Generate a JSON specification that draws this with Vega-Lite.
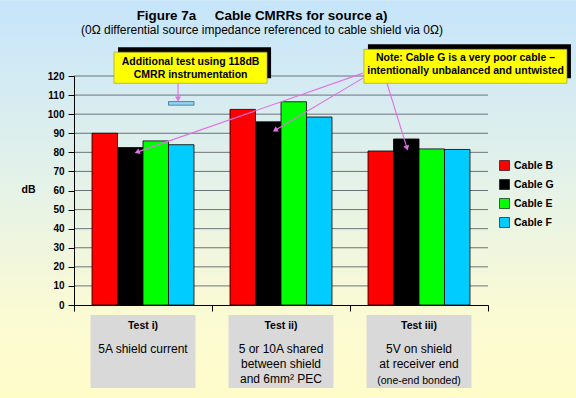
{
  "$schema": "https://vega.github.io/schema/vega-lite/v6.json",
  "width": 414,
  "height": 229,
  "autosize": {"type": "none"},
  "padding": {"left": 74, "top": 76, "right": 88, "bottom": 93},
  "background": "#e4f1ea",
  "config": {
    "font": "Liberation Sans",
    "view": {"stroke": null},
    "axisY": {
      "grid": false,
      "domainColor": "black", "tickColor": "black", "tickSize": 6,
      "labelFont": "Liberation Sans", "labelFontSize": 10, "labelFontWeight": "bold", "labelColor": "black", "labelPadding": 4,
      "titleAngle": 0, "titleX": -46, "titleY": 113, "titleAlign": "center", "titleBaseline": "middle",
      "titleFont": "Liberation Sans", "titleFontSize": 10.5, "titleFontWeight": "bold", "titleColor": "black"
    }
  },
  "title": {
    "text": "Figure 7a \u00a0\u00a0\u00a0 Cable CMRRs for source a)",
    "subtitle": "(0Ω differential source impedance referenced to cable shield via 0Ω)",
    "anchor": "middle",
    "frame": "group",
    "dx": -19,
    "offset": -36,
    "font": "Liberation Sans",
    "fontSize": 13.4,
    "fontWeight": "bold",
    "color": "black",
    "subtitleFont": "Liberation Sans",
    "subtitleFontSize": 12,
    "subtitleColor": "black",
    "subtitlePadding": 2.5
  },
  "datasets": {
    "cmrr": [
      {"test": "Test i)", "cable": "Cable B", "db": 90},
      {"test": "Test i)", "cable": "Cable G", "db": 82.5},
      {"test": "Test i)", "cable": "Cable E", "db": 86},
      {"test": "Test i)", "cable": "Cable F", "db": 84},
      {"test": "Test ii)", "cable": "Cable B", "db": 102.5},
      {"test": "Test ii)", "cable": "Cable G", "db": 96},
      {"test": "Test ii)", "cable": "Cable E", "db": 106.5},
      {"test": "Test ii)", "cable": "Cable F", "db": 98.5},
      {"test": "Test iii)", "cable": "Cable B", "db": 80.7},
      {"test": "Test iii)", "cable": "Cable G", "db": 87},
      {"test": "Test iii)", "cable": "Cable E", "db": 81.8},
      {"test": "Test iii)", "cable": "Cable F", "db": 81.5}
    ],
    "extra": [
      {"test": "Test i)", "cable": "Cable F", "low": 104.7, "high": 106.6}
    ],
    "grid": [
      {"g": 10}, {"g": 20}, {"g": 30}, {"g": 40}, {"g": 50}, {"g": 60},
      {"g": 70}, {"g": 80}, {"g": 90}, {"g": 100}, {"g": 110}, {"g": 120}
    ],
    "tests": [
      {"test": "Test i)", "desc": "5A shield current"},
      {"test": "Test ii)", "desc": "5 or 10A shared\nbetween shield\nand 6mm² PEC"},
      {"test": "Test iii)", "desc": "5V on shield\nat receiver end", "note": "(one-end bonded)"}
    ],
    "notes": [
      {"note": "Additional test using 118dB\nCMRR instrumentation", "bx1": 0.29, "bx2": 1.399, "by1": 132.5, "by2": 116.2, "cx": 0.845, "cy": 127.1},
      {"note": "Note: Cable G is a very poor cable –\nintentionally unbalanced and untwisted", "bx1": 2.101, "bx2": 3.572, "by1": 134.0, "by2": 116.2, "cx": 2.837, "cy": 129.2}
    ],
    "arrows": [
      {"x1": 0.754, "y1": 116.2, "x2": 0.754, "y2": 107.9, "ang": 180},
      {"x1": 2.094, "y1": 121.5, "x2": 0.457, "y2": 80.1, "ang": -109.3},
      {"x1": 2.094, "y1": 118.9, "x2": 1.457, "y2": 91.6, "ang": -120.6},
      {"x1": 2.268, "y1": 116.2, "x2": 2.413, "y2": 82.2, "ang": 162.9}
    ]
  },
  "resolve": {"scale": {"x": "independent"}},
  "layer": [
    {
      "data": {"values": [{}]},
      "mark": {
        "type": "rect",
        "fill": {
          "gradient": "linear",
          "x1": 0, "y1": 0, "x2": 0, "y2": 1,
          "stops": [
            {"offset": 0, "color": "#c6e5fb"},
            {"offset": 0.5, "color": "#e7f3e6"},
            {"offset": 0.78, "color": "#fafad4"},
            {"offset": 1, "color": "#fffcc9"}
          ]
        }
      },
      "encoding": {
        "x": {"datum": -0.5362, "type": "quantitative", "scale": {"domain": [0, 3], "nice": false, "zero": false}, "axis": null},
        "x2": {"datum": 3.638},
        "y": {"datum": 159.7, "type": "quantitative", "scale": {"domain": [0, 120], "nice": false, "zero": false}, "axis": {"values": [0, 10, 20, 30, 40, 50, 60, 70, 80, 90, 100, 110, 120], "title": "dB", "zindex": 1}},
        "y2": {"datum": -48.7}
      }
    },
    {
      "layer": [
        {
          "data": {"name": "tests"},
          "mark": {"type": "bar", "fill": "#d9d9d9", "width": {"band": 0.76}},
          "encoding": {
            "x": {"field": "test", "type": "nominal", "sort": ["Test i)", "Test ii)", "Test iii)"]},
            "y": {"datum": -5.2, "type": "quantitative", "scale": {"domain": [0, 120], "nice": false, "zero": false}, "axis": {"values": [0, 10, 20, 30, 40, 50, 60, 70, 80, 90, 100, 110, 120], "title": "dB", "zindex": 1}},
            "y2": {"datum": -43.5}
          }
        },
        {
          "data": {"name": "grid"},
          "mark": {"type": "rule", "color": "#6b7378", "strokeWidth": 1},
          "encoding": {
            "y": {"field": "g", "type": "quantitative", "scale": {"domain": [0, 120], "nice": false, "zero": false}, "axis": {"values": [0, 10, 20, 30, 40, 50, 60, 70, 80, 90, 100, 110, 120], "title": "dB", "zindex": 1}}
          }
        },
        {
          "data": {"name": "cmrr"},
          "mark": {"type": "bar", "stroke": "black", "strokeWidth": 0.8},
          "encoding": {
            "x": {
              "field": "test", "type": "nominal",
              "sort": ["Test i)", "Test ii)", "Test iii)"],
              "scale": {"paddingInner": 0, "paddingOuter": 0},
              "axis": {"labels": false, "title": null, "grid": false, "domainColor": "black", "tickColor": "black", "tickSize": 6, "bandPosition": 1, "tickExtra": true, "zindex": 1}
            },
            "xOffset": {
              "field": "cable", "type": "nominal",
              "sort": ["Cable B", "Cable G", "Cable E", "Cable F"],
              "scale": {"paddingInner": 0, "paddingOuter": 0.706}
            },
            "y": {
              "field": "db", "type": "quantitative",
              "scale": {"domain": [0, 120], "nice": false, "zero": false},
              "axis": {"values": [0, 10, 20, 30, 40, 50, 60, 70, 80, 90, 100, 110, 120], "title": "dB", "zindex": 1}
            },
            "color": {
              "field": "cable", "type": "nominal",
              "scale": {"domain": ["Cable B", "Cable G", "Cable E", "Cable F"], "range": ["#ff0000", "#000000", "#00ff00", "#00ccff"]},
              "legend": {
                "title": null, "orient": "none", "legendX": 425, "legendY": 84,
                "symbolType": "square", "symbolSize": 100, "symbolStrokeColor": "black", "symbolStrokeWidth": 0.6,
                "labelFont": "Liberation Sans", "labelFontSize": 10.5, "labelFontWeight": "bold", "labelColor": "black",
                "labelOffset": 4, "rowPadding": 6
              }
            }
          }
        },
        {
          "data": {"name": "extra"},
          "mark": {"type": "bar", "fill": "#8fd3f2", "stroke": "#3f6f8c", "strokeWidth": 0.8},
          "encoding": {
            "x": {"field": "test", "type": "nominal", "sort": ["Test i)", "Test ii)", "Test iii)"]},
            "xOffset": {"field": "cable", "type": "nominal", "sort": ["Cable B", "Cable G", "Cable E", "Cable F"]},
            "y": {"field": "low", "type": "quantitative", "scale": {"domain": [0, 120], "nice": false, "zero": false}, "axis": {"values": [0, 10, 20, 30, 40, 50, 60, 70, 80, 90, 100, 110, 120], "title": "dB", "zindex": 1}},
            "y2": {"field": "high"}
          }
        },
        {
          "data": {"name": "tests"},
          "mark": {"type": "text", "fontSize": 10.5, "fontWeight": "bold", "align": "center", "baseline": "alphabetic", "color": "black"},
          "encoding": {
            "x": {"field": "test", "type": "nominal", "sort": ["Test i)", "Test ii)", "Test iii)"]},
            "y": {"datum": -12.7, "type": "quantitative", "scale": {"domain": [0, 120], "nice": false, "zero": false}, "axis": {"values": [0, 10, 20, 30, 40, 50, 60, 70, 80, 90, 100, 110, 120], "title": "dB", "zindex": 1}},
            "text": {"field": "test"}
          }
        },
        {
          "data": {"name": "tests"},
          "mark": {"type": "text", "fontSize": 12, "lineBreak": "\n", "lineHeight": 15, "align": "center", "baseline": "top", "color": "black"},
          "encoding": {
            "x": {"field": "test", "type": "nominal", "sort": ["Test i)", "Test ii)", "Test iii)"]},
            "y": {"datum": -20.3, "type": "quantitative", "scale": {"domain": [0, 120], "nice": false, "zero": false}, "axis": {"values": [0, 10, 20, 30, 40, 50, 60, 70, 80, 90, 100, 110, 120], "title": "dB", "zindex": 1}},
            "text": {"field": "desc"}
          }
        },
        {
          "data": {"name": "tests"},
          "transform": [{"filter": "datum.note"}],
          "mark": {"type": "text", "fontSize": 10.5, "align": "center", "baseline": "alphabetic", "color": "black"},
          "encoding": {
            "x": {"field": "test", "type": "nominal", "sort": ["Test i)", "Test ii)", "Test iii)"]},
            "y": {"datum": -41.3, "type": "quantitative", "scale": {"domain": [0, 120], "nice": false, "zero": false}, "axis": {"values": [0, 10, 20, 30, 40, 50, 60, 70, 80, 90, 100, 110, 120], "title": "dB", "zindex": 1}},
            "text": {"field": "note"}
          }
        }
      ]
    },
    {
      "layer": [
        {
          "data": {"name": "notes"},
          "mark": {"type": "rect", "fill": "black", "xOffset": 4, "x2Offset": 4, "yOffset": -5, "y2Offset": -5},
          "encoding": {
            "x": {"field": "bx1", "type": "quantitative", "scale": {"domain": [0, 3], "nice": false, "zero": false}, "axis": null},
            "x2": {"field": "bx2"},
            "y": {"field": "by1", "type": "quantitative", "scale": {"domain": [0, 120], "nice": false, "zero": false}, "axis": {"values": [0, 10, 20, 30, 40, 50, 60, 70, 80, 90, 100, 110, 120], "title": "dB", "zindex": 1}},
            "y2": {"field": "by2"}
          }
        },
        {
          "data": {"name": "notes"},
          "mark": {"type": "rect", "fill": "#ffff00", "stroke": "#8a8a70", "strokeWidth": 0.6},
          "encoding": {
            "x": {"field": "bx1", "type": "quantitative", "scale": {"domain": [0, 3], "nice": false, "zero": false}, "axis": null},
            "x2": {"field": "bx2"},
            "y": {"field": "by1", "type": "quantitative", "scale": {"domain": [0, 120], "nice": false, "zero": false}, "axis": {"values": [0, 10, 20, 30, 40, 50, 60, 70, 80, 90, 100, 110, 120], "title": "dB", "zindex": 1}},
            "y2": {"field": "by2"}
          }
        },
        {
          "data": {"name": "notes"},
          "mark": {"type": "text", "lineBreak": "\n", "fontSize": 10.5, "fontWeight": "bold", "lineHeight": 12.5, "align": "center", "baseline": "middle", "color": "black", "font": "Liberation Sans"},
          "encoding": {
            "x": {"field": "cx", "type": "quantitative", "scale": {"domain": [0, 3], "nice": false, "zero": false}, "axis": null},
            "y": {"field": "cy", "type": "quantitative", "scale": {"domain": [0, 120], "nice": false, "zero": false}, "axis": {"values": [0, 10, 20, 30, 40, 50, 60, 70, 80, 90, 100, 110, 120], "title": "dB", "zindex": 1}},
            "text": {"field": "note"}
          }
        },
        {
          "data": {"name": "arrows"},
          "mark": {"type": "rule", "color": "#e070e6", "strokeWidth": 1.1},
          "encoding": {
            "x": {"field": "x1", "type": "quantitative", "scale": {"domain": [0, 3], "nice": false, "zero": false}, "axis": null},
            "x2": {"field": "x2"},
            "y": {"field": "y1", "type": "quantitative", "scale": {"domain": [0, 120], "nice": false, "zero": false}, "axis": {"values": [0, 10, 20, 30, 40, 50, 60, 70, 80, 90, 100, 110, 120], "title": "dB", "zindex": 1}},
            "y2": {"field": "y2"}
          }
        },
        {
          "data": {"name": "arrows"},
          "mark": {"type": "point", "shape": "triangle-up", "filled": true, "size": 36, "color": "#e070e6", "opacity": 1},
          "encoding": {
            "x": {"field": "x2", "type": "quantitative", "scale": {"domain": [0, 3], "nice": false, "zero": false}, "axis": null},
            "y": {"field": "y2", "type": "quantitative", "scale": {"domain": [0, 120], "nice": false, "zero": false}, "axis": {"values": [0, 10, 20, 30, 40, 50, 60, 70, 80, 90, 100, 110, 120], "title": "dB", "zindex": 1}},
            "angle": {"field": "ang", "type": "quantitative", "scale": null}
          }
        }
      ]
    }
  ]
}
